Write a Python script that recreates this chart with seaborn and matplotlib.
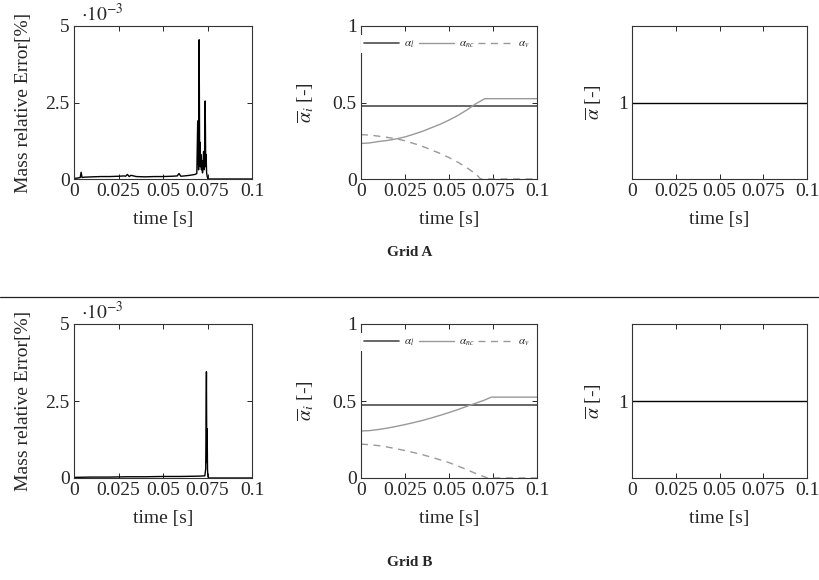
import numpy as np
import pandas as pd
import seaborn as sns
import matplotlib.pyplot as plt
from matplotlib.lines import Line2D

# mass relative error, in units of 1e-3 %
t_err_a = [0, 0.002, 0.0035, 0.004, 0.0045, 0.006, 0.01, 0.015, 0.02, 0.025, 0.028,
           0.029, 0.030, 0.031, 0.032, 0.035, 0.04, 0.045, 0.05, 0.055, 0.058, 0.059,
           0.060, 0.062, 0.065, 0.068, 0.069, 0.0695, 0.0700, 0.0703, 0.0706, 0.0708,
           0.0710, 0.0713, 0.0716, 0.0719, 0.0722, 0.0725, 0.0728, 0.0731, 0.0734,
           0.0737, 0.0740, 0.0742, 0.0745, 0.0748, 0.0752, 0.076, 0.08, 0.09, 0.1]
err_a = [0.02, 0.03, 0.05, 0.22, 0.05, 0.06, 0.07, 0.08, 0.08, 0.09, 0.10,
         0.09, 0.15, 0.08, 0.12, 0.08, 0.07, 0.08, 0.08, 0.09, 0.10, 0.18,
         0.09, 0.10, 0.12, 0.15, 0.18, 1.90, 0.30, 4.55, 0.50, 1.20,
         0.40, 0.80, 0.30, 0.60, 0.20, 0.50, 0.90, 0.30, 1.00,
         2.55, 0.40, 0.80, 0.20, 0.10, 0.0, 0.0, 0.0, 0.0, 0.0]

t_err_b = [0, 0.01, 0.02, 0.03, 0.04, 0.05, 0.06, 0.07, 0.0735, 0.0740, 0.0744,
           0.0746, 0.0748, 0.0750, 0.0752, 0.0756, 0.08, 0.09, 0.1]
err_b = [0.02, 0.03, 0.03, 0.04, 0.04, 0.05, 0.05, 0.06, 0.07, 0.3, 3.45,
         0.5, 1.6, 0.3, 0.05, 0.0, 0.0, 0.0, 0.0]

# mean volume fractions
t_alpha_a = [0, 0.005, 0.01, 0.015, 0.02, 0.025, 0.03, 0.035, 0.04, 0.045, 0.05,
             0.055, 0.06, 0.065, 0.068, 0.0703, 0.08, 0.09, 0.1]
alpha_l_a = [0.475] * len(t_alpha_a)
alpha_nc_a = [0.232, 0.236, 0.245, 0.252, 0.262, 0.275, 0.293, 0.312, 0.335, 0.358,
              0.385, 0.415, 0.45, 0.49, 0.51, 0.525, 0.525, 0.525, 0.525]
alpha_v_a = [0.29, 0.287, 0.28, 0.272, 0.263, 0.25, 0.232, 0.213, 0.19, 0.167,
             0.14, 0.11, 0.075, 0.035, 0.0, 0.0, 0.0, 0.0, 0.0]

t_alpha_b = [0, 0.005, 0.01, 0.015, 0.02, 0.025, 0.03, 0.035, 0.04, 0.045, 0.05,
             0.055, 0.06, 0.065, 0.07, 0.072, 0.074, 0.08, 0.09, 0.1]
alpha_l_b = [0.475] * len(t_alpha_b)
alpha_nc_b = [0.305, 0.308, 0.315, 0.324, 0.335, 0.347, 0.36, 0.374, 0.39, 0.407,
              0.425, 0.444, 0.465, 0.485, 0.505, 0.515, 0.525, 0.525, 0.525, 0.525]
alpha_v_b = [0.22, 0.216, 0.21, 0.201, 0.19, 0.178, 0.165, 0.151, 0.135, 0.118,
             0.10, 0.078, 0.055, 0.03, 0.008, 0.0, 0.0, 0.0, 0.0, 0.0]

t_mean = [0, 0.1]
alpha_mean = [1.0, 1.0]

x_ticks = [0, 0.025, 0.05, 0.075, 0.1]
x_labels = ["0", "0.025", "0.05", "0.075", "0.1"]

sns.set_theme(style="ticks")
plt.rcParams["font.family"] = ["Liberation Serif", "DejaVu Serif"]
plt.rcParams["mathtext.fontset"] = "stix"
plt.rcParams["xtick.direction"] = "in"
plt.rcParams["ytick.direction"] = "in"
plt.rcParams["xtick.top"] = True
plt.rcParams["ytick.right"] = True
plt.rcParams["axes.edgecolor"] = "#333333"
plt.rcParams["axes.linewidth"] = 0.8

fig = plt.figure(figsize=(8.19, 5.80), dpi=100)

lefts = [74 / 819, 361 / 819, 632 / 819]
widths = [178 / 819, 176 / 819, 175 / 819]
rows = [(1 - 179 / 580, 153 / 580), (1 - 478 / 580, 154 / 580)]

data_rows = [
    (t_err_a, err_a, t_alpha_a, alpha_l_a, alpha_nc_a, alpha_v_a),
    (t_err_b, err_b, t_alpha_b, alpha_l_b, alpha_nc_b, alpha_v_b),
]

fs = 14
for (bottom, height), (te, er, ta, al, anc, av) in zip(rows, data_rows):
    axes = [fig.add_axes([l, bottom, w, height]) for l, w in zip(lefts, widths)]

    # mass error
    ax = axes[0]
    df = pd.DataFrame({"t": te, "err": er})
    sns.lineplot(data=df, x="t", y="err", ax=ax, color="black", lw=1.0,
                 estimator=None, sort=False)
    ax.set_ylim(0, 5)
    ax.set_yticks([0, 2.5, 5])
    ax.set_yticklabels(["0", "2.5", "5"])
    ax.set_ylabel("Mass relative Error[%]", fontsize=fs, labelpad=10)
    ax.text(0.04, 1.005, r"$\cdot 10^{-3}$", transform=ax.transAxes,
            fontsize=fs, va="bottom", ha="left")

    # phase fractions
    ax = axes[1]
    dfa = pd.DataFrame({"t": ta, "l": al, "nc": anc, "v": av})
    sns.lineplot(data=dfa, x="t", y="l", ax=ax, color="#4d4d4d", lw=1.2,
                 estimator=None)
    sns.lineplot(data=dfa, x="t", y="nc", ax=ax, color="#999999", lw=1.0,
                 estimator=None)
    sns.lineplot(data=dfa, x="t", y="v", ax=ax, color="#999999", lw=1.0,
                 ls=(0, (5, 4)), estimator=None)
    ax.set_ylim(0, 1)
    ax.set_yticks([0, 0.5, 1])
    ax.set_yticklabels(["0", "0.5", "1"])
    ax.set_ylabel(r"$\overline{\alpha}_i$ [-]", fontsize=fs, labelpad=12)
    handles = [Line2D([], [], color="#4d4d4d", lw=1.2),
               Line2D([], [], color="#999999", lw=1.0),
               Line2D([], [], color="#999999", lw=1.0, ls=(0, (5, 4)))]
    leg = ax.legend(handles, [r"$\alpha_l$", r"$\alpha_{nc}$", r"$\alpha_v$"],
                    ncol=3, loc="upper right", bbox_to_anchor=(1.01, 0.975),
                    fontsize=8, handlelength=3.2, columnspacing=0.4,
                    handletextpad=0.4, borderpad=0.3, frameon=True,
                    framealpha=1, fancybox=False, edgecolor="none")

    # mean fraction
    ax = axes[2]
    dfm = pd.DataFrame({"t": t_mean, "a": alpha_mean})
    sns.lineplot(data=dfm, x="t", y="a", ax=ax, color="black", lw=1.0,
                 estimator=None)
    ax.set_ylim(0, 2)
    ax.set_yticks([1])
    ax.set_yticklabels(["1"])
    ax.set_ylabel(r"$\overline{\alpha}$ [-]", fontsize=fs, labelpad=10)

    for ax in axes:
        ax.set_xlim(0, 0.1)
        ax.set_xticks(x_ticks)
        ax.set_xticklabels(x_labels)
        ax.set_xlabel("time [s]", fontsize=fs, labelpad=8)
        ax.tick_params(labelsize=fs, length=3.5, width=0.7, pad=3)

fig.text(0.5, 1 - 253 / 580, "Grid A", ha="center", va="center",
         fontsize=11, fontweight="bold")
fig.text(0.5, 1 - 563 / 580, "Grid B", ha="center", va="center",
         fontsize=11, fontweight="bold")
fig.add_artist(Line2D([0, 1], [1 - 297 / 580, 1 - 297 / 580],
                      transform=fig.transFigure, color="#222222", lw=0.9))

fig.savefig("out.png", dpi=100)
